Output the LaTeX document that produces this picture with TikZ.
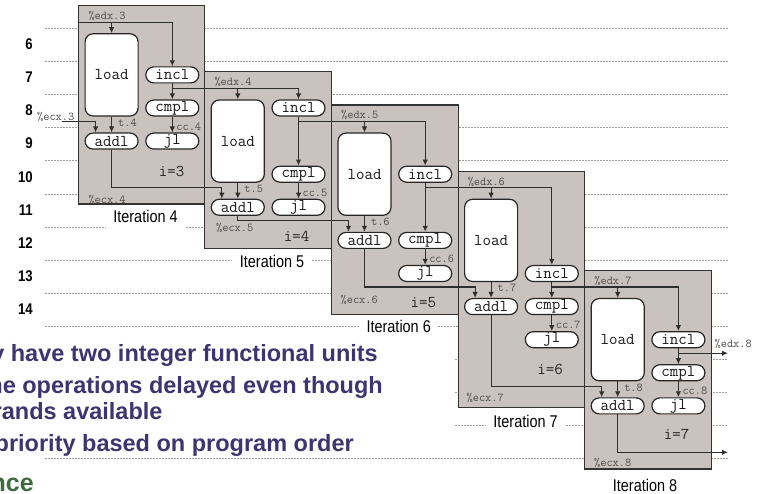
\documentclass[tikz,border=0pt]{standalone}
\usepackage{fontspec}
\setmainfont{Liberation Sans}
\newfontfamily\figsans[FakeStretch=0.85]{Liberation Sans}
\newfontfamily\figmono{Latin Modern Mono}
\usetikzlibrary{arrows.meta}
\definecolor{boxgray}{HTML}{C9C2BF}
\definecolor{slidepurple}{HTML}{3D3470}
\definecolor{slidegreen}{HTML}{3F6B3F}
\definecolor{wire}{HTML}{2E2E2E}

\begin{document}
\begin{tikzpicture}[
    x=1pt, y=-1pt,
    cycline/.style={gray!75, line width=0.5pt, dash pattern=on 2pt off 1pt},
    iterbox/.style={draw=black!80, fill=boxgray, line width=1.2pt},
    op/.style={draw=black!85, fill=white, line width=1.2pt, rounded corners=8pt, minimum width=53pt, minimum height=16pt, inner sep=0pt, text=black!90, font=\figmono\fontsize{16.5}{16.5}\selectfont},
    loadop/.style={op, minimum height=82.2pt},
    reg/.style={inner sep=1pt, text=black!70, font=\figmono\fontsize{12}{12}\selectfont},
    idx/.style={inner sep=0pt, text=black!85, font=\figmono\fontsize{16.5}{16.5}\selectfont},
    cyc/.style={anchor=east, inner sep=0pt, font=\figsans\bfseries\fontsize{15.5}{16}\selectfont},
    iter/.style={fill=white, inner xsep=7.5pt, inner ysep=3pt, font=\figsans\fontsize{17}{17}\selectfont},
    bullet/.style={anchor=base east, inner sep=0pt, text=slidepurple, font=\bfseries\fontsize{23.5}{24}\selectfont},
    arr/.style={-{Latex[length=6pt,width=5.5pt]}, line width=1.2pt, draw=wire}
]
\useasboundingbox (0,0) rectangle (761,494);

\foreach \k in {0,...,9,13} \draw[cycline] (45,{28.3+33.1*\k}) -- (728,{28.3+33.1*\k});
\foreach \k in {10,11,12} \draw[cycline] (455,{28.3+33.1*\k}) -- (728,{28.3+33.1*\k});
\foreach \n in {6,...,14} \node[cyc] (cyc\n) at (33,{44.3+33.1*(\n-6)}) {\n};

\draw[iterbox] (78.6,5.7) rectangle (204.8,204);
\draw[iterbox] (204.8,71.7) rectangle (331.5,248.3);
\draw[iterbox] (331.5,105) rectangle (458.1,314.3);
\draw[iterbox] (458.1,171.3) rectangle (584.7,407.7);
\draw[iterbox] (584.7,270.7) rectangle (711.3,469);

\node[loadop] (load4) at (111.6,74.9) {load};
\node[op] (incl4) at (172.3,74.9) {incl};
\node[op] (cmpl4) at (172.3,108.0) {cmpl};
\node[op] (addl4) at (111.6,141.1) {addl};
\node[op] (jl4) at (172.3,141.1) {jl};

\node[loadop] (load5) at (237.8,141.1) {load};
\node[op] (incl5) at (298.5,108.0) {incl};
\node[op] (cmpl5) at (298.5,174.2) {cmpl};
\node[op] (addl5) at (237.8,207.3) {addl};
\node[op] (jl5) at (298.5,207.3) {jl};

\node[loadop] (load6) at (364.5,174.2) {load};
\node[op] (incl6) at (425.2,174.2) {incl};
\node[op] (cmpl6) at (425.2,240.4) {cmpl};
\node[op] (addl6) at (364.5,240.4) {addl};
\node[op] (jl6) at (425.2,273.5) {jl};

\node[loadop] (load7) at (491.1,240.4) {load};
\node[op] (incl7) at (551.8,273.5) {incl};
\node[op] (cmpl7) at (551.8,306.6) {cmpl};
\node[op] (addl7) at (491.1,306.6) {addl};
\node[op] (jl7) at (551.8,339.7) {jl};

\node[loadop] (load8) at (617.7,339.7) {load};
\node[op] (incl8) at (678.4,339.7) {incl};
\node[op] (cmpl8) at (678.4,372.8) {cmpl};
\node[op] (addl8) at (617.7,405.9) {addl};
\node[op] (jl8) at (678.4,405.9) {jl};

\coordinate (edx3) at (78.6,22.2);
\coordinate (e4) at (172.3,88.4);
\coordinate (e5) at (298.5,121.5);
\coordinate (e6) at (425.2,187.7);
\coordinate (e7) at (551.8,287.0);
\coordinate (e8) at (678.4,353.2);
\coordinate (edx8out) at (728,353.2);
\coordinate (ecx3) at (62,121.6);
\coordinate (x4) at (95.6,121.6);
\coordinate (x5) at (221.8,187.8);
\coordinate (x6) at (348.5,220.9);
\coordinate (x7) at (475.1,287.1);
\coordinate (x8) at (601.7,386.4);
\coordinate (ecx8out) at (728,452.3);

\draw[arr] (edx3) -| (incl4);
\draw[arr] (edx3 -| load4) -- (load4);
\draw[arr] (ecx3) -- (x4) -- (x4 |- addl4.north);
\draw[arr] (load4) -- node[reg, right=5pt, pos=.4]{t.4} (addl4);
\draw[arr] (incl4) -- (cmpl4);
\draw[arr] (cmpl4) -- node[reg, right=2.5pt, pos=.62]{cc.4} (jl4);

\draw[arr] (e4) -| (incl5);
\draw[arr] (e4 -| load5) -- (load5);
\draw[arr] (addl4) |- (x5) -- (x5 |- addl5.north);
\draw[arr] (load5) -- node[reg, right=5pt, pos=.38]{t.5} (addl5);
\draw[arr] (incl5) -- (cmpl5);
\draw[arr] (cmpl5) -- node[reg, right=2.5pt, pos=.62]{cc.5} (jl5);

\draw[arr] (e5) -| (incl6);
\draw[arr] (e5 -| load6) -- (load6);
\draw[arr] (addl5) |- (x6) -- (x6 |- addl6.north);
\draw[arr] (load6) -- node[reg, right=5pt, pos=.38]{t.6} (addl6);
\draw[arr] (incl6) -- (cmpl6);
\draw[arr] (cmpl6) -- node[reg, right=2.5pt, pos=.62]{cc.6} (jl6);

\draw[arr] (e6) -| (incl7);
\draw[arr] (e6 -| load7) -- (load7);
\draw[arr] (addl6) |- (x7) -- (x7 |- addl7.north);
\draw[arr] (load7) -- node[reg, right=5pt, pos=.38]{t.7} (addl7);
\draw[arr] (incl7) -- (cmpl7);
\draw[arr] (cmpl7) -- node[reg, right=2.5pt, pos=.62]{cc.7} (jl7);

\draw[arr] (e7) -| (incl8);
\draw[arr] (e7 -| load8) -- (load8);
\draw[arr] (addl7) |- (x8) -- (x8 |- addl8.north);
\draw[arr] (load8) -- node[reg, right=5pt, pos=.38]{t.8} (addl8);
\draw[arr] (incl8) -- (cmpl8);
\draw[arr] (cmpl8) -- node[reg, right=2.5pt, pos=.62]{cc.8} (jl8);
\draw[arr] (e8) -- (edx8out);
\draw[arr] (addl8) |- (ecx8out);

\node[reg, anchor=west] (ecxin) at (36,117) {\%ecx.3};
\node[reg, anchor=west] (edxout) at (713.5,343.5) {\%edx.8};
\node[reg, anchor=west] (edxlab4) at (87.3,15.7) {\%edx.3};
\node[reg, anchor=west] (edxlab5) at (213.3,81.7) {\%edx.4};
\node[reg, anchor=west] (edxlab6) at (340,115.3) {\%edx.5};
\node[reg, anchor=west] (edxlab7) at (466.6,181.5) {\%edx.6};
\node[reg, anchor=west] (edxlab8) at (593.2,280.7) {\%edx.7};
\node[reg, anchor=west] (ecxlab4) at (87.3,199.5) {\%ecx.4};
\node[reg, anchor=west] (ecxlab5) at (215,227.7) {\%ecx.5};
\node[reg, anchor=west] (ecxlab6) at (339.5,300) {\%ecx.6};
\node[reg, anchor=west] (ecxlab7) at (465.5,398.3) {\%ecx.7};
\node[reg, anchor=west] (ecxlab8) at (593,462.7) {\%ecx.8};
\node[idx] (i4) at (171.7,171.2) {i=3};
\node[idx] (i5) at (296.7,236.7) {i=4};
\node[idx] (i6) at (423.3,302.3) {i=5};
\node[idx] (i7) at (550,369) {i=6};
\node[idx] (i8) at (676.7,434.3) {i=7};

\node[iter, anchor=north, text depth=9pt] (it4) at (145.5,206.5) {Iteration 4};
\node[iter] (it5) at (272,261) {Iteration 5};
\node[iter] (it6) at (398.7,326.3) {Iteration 6};
\node[iter] (it7) at (525.5,421) {Iteration 7};
\node[iter] (it8) at (645,485) {Iteration 8};

\node[bullet] (units) at (378,361.7) {y have two integer functional units};
\node[bullet] (delayed) at (383,393.3) {me operations delayed even though};
\node[bullet] (avail) at (162.7,419.5) {rands available};
\node[bullet] (prio) at (354,451) {priority based on program order};
\node[bullet, text=slidegreen, font=\bfseries\fontsize{25}{25}\selectfont] (perf) at (34,491.7) {nce};
\end{tikzpicture}
\end{document}
